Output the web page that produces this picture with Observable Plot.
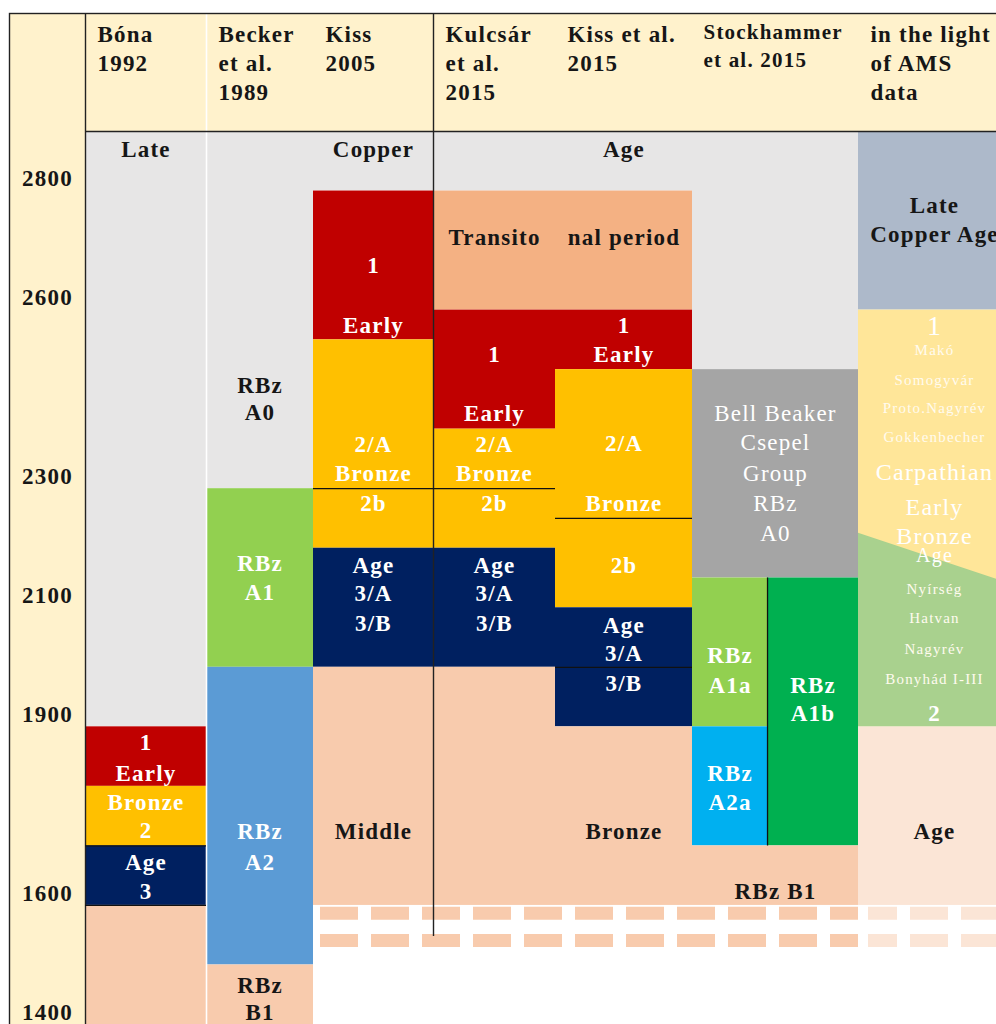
<!DOCTYPE html>
<html>
<head>
<meta charset="utf-8">
<script src="https://cdn.jsdelivr.net/npm/d3@7"></script>
<script src="https://cdn.jsdelivr.net/npm/@observablehq/plot@0.6"></script>
<style>
  html, body { margin: 0; padding: 0; background: #fff; }
  #chart { width: 996px; height: 1024px; overflow: hidden; }
  #chart svg { display: block; overflow: hidden; }
  #chart svg text { letter-spacing: 1.2px; }
</style>
</head>
<body>
<div id="chart"></div>
<script>
// ---------------- DATA ----------------
const columns = ["Bóna 1992", "Becker et al. 1989", "Kiss 2005", "Kulcsár et al. 2015",
                 "Kiss et al. 2015", "Stockhammer et al. 2015", "in the light of AMS data"];
const headerLines = [["Bóna", "1992"], ["Becker", "et al.", "1989"], ["Kiss", "2005"],
                     ["Kulcsár", "et al.", "2015"], ["Kiss et al.", "2015"],
                     ["Stockhammer", "et al. 2015"], ["in the light", "of AMS", "data"]];
const yearTicks = [2800, 2600, 2300, 2100, 1900, 1600, 1400];

// periods per column: [from (BC), to (BC), phase, lane]
const bonaPeriods = [[2900, 1900, "LCA"], [1900, 1800, "EBA1"], [1800, 1700, "EBA2"], [1700, 1600, "EBA3"], [1600, 1400, "MBA"]];
const beckerPeriods = [[2900, 2300, "LCA"], [2300, 2000, "A1"], [2000, 1500, "A2"], [1500, 1400, "B1"]];
const kiss2005Periods = [[2900, 2800, "LCA"], [2800, 2550, "EBA1"], [2550, 2200, "EBA2"], [2200, 2000, "EBA3"], [2000, 1600, "MBA"]];
const kulcsarPeriods = [[2900, 2800, "LCA"], [2800, 2600, "TRANS"], [2600, 2400, "EBA1"], [2400, 2200, "EBA2"], [2200, 2000, "EBA3"], [2000, 1600, "MBA"]];
const kissEtAlPeriods = [[2900, 2800, "LCA"], [2800, 2600, "TRANS"], [2600, 2500, "EBA1"], [2500, 2100, "EBA2"], [2100, 1900, "EBA3"], [1900, 1600, "MBA"]];
const stockhammerPeriods = [[2900, 2500, "LCA"], [2500, 2150, "A0"], [2150, 1900, "A1", "a"], [1900, 1700, "A2a", "a"], [2150, 1700, "A1b", "b"], [1700, 1600, "B1"]];
const amsPeriods = [[2900, 2600, "AMS_LCA"], [2600, 1900, "AMS_EBA1"], [1900, 1600, "AMS_MBA"]];
// AMS EBA1 / EBA2 boundary: [position across column (0 = left, 1 = right), year]
const amsEba2Boundary = [[0, 2225], [1, 2140]];
const amsEba2End = 1900;

// internal sub-phase divisions: [column, year]
const subdivisions = [["Bóna 1992", 1700], ["Bóna 1992", 1600], ["Kiss 2005", 2300],
                      ["Kulcsár et al. 2015", 2300], ["Kiss et al. 2015", 2250], ["Kiss et al. 2015", 2000]];
const stockhammerLaneSplit = [2150, 1700];
const kissDividerEnd = 1548;
const continuationRows = [1587, 1541];

// labels per column: [text, year, lane]
const bonaLabels = [["Late", 2870], ["1", 1874], ["Early", 1822], ["Bronze", 1773], ["2", 1726], ["Age", 1672], ["3", 1623]];
const beckerLabels = [["RBz", 2473], ["A0", 2428], ["RBz", 2174], ["A1", 2126], ["RBz", 1724], ["A2", 1672], ["RBz", 1465], ["B1", 1420]];
const kiss2005Labels = [["Copper", 2870], ["1", 2675], ["Early", 2574], ["2/A", 2374], ["Bronze", 2325], ["2b", 2275], ["Age", 2171], ["3/A", 2124], ["3/B", 2073], ["Middle", 1724]];
const kulcsarLabels = [["Transito", 2722], ["1", 2526], ["Early", 2426], ["2/A", 2374], ["Bronze", 2325], ["2b", 2275], ["Age", 2171], ["3/A", 2124], ["3/B", 2073]];
const kissEtAlLabels = [["Age", 2870], ["nal period", 2722], ["1", 2574], ["Early", 2526], ["2/A", 2376], ["Bronze", 2275], ["2b", 2171], ["Age", 2070], ["3/A", 2023], ["3/B", 1973], ["Bronze", 1724]];
const stockhammerLabels = [["RBz", 2020, "a"], ["A1a", 1969, "a"], ["RBz", 1969, "b"], ["A1b", 1922, "b"], ["RBz", 1822, "a"], ["A2a", 1772, "a"], ["RBz B1", 1623]];
const amsLabels = [["Late", 2776], ["Copper Age", 2727], ["2", 1922], ["Age", 1724]];
const stockhammerA0Labels = [["Bell Beaker", 2426], ["Csepel", 2378], ["Group", 2325], ["RBz", 2275], ["A0", 2225]];
const amsPhaseNumber = [["1", 2574]];
const amsEraName = [["Carpathian", 2327], ["Early", 2268], ["Bronze", 2220]];
const amsEraSuffix = [["Age", 2188]];
const amsCultures = [["Makó", 2532], ["Somogyvár", 2483], ["Proto.Nagyrév", 2436], ["Gokkenbecher", 2386],
                     ["Nyírség", 2131], ["Hatvan", 2082], ["Nagyrév", 2030], ["Bonyhád I-III", 1980]];

// ---------------- STYLE / LAYOUT ----------------
const FONT = "'Liberation Serif', 'Times New Roman', serif";
const colEdgePx = [9, 85, 206, 313, 433, 555, 692, 858, 1010];
const yDomain = [2900, 1400], yRange = [131, 1024], frameTop = 13;
const laneSpan = {"": [0, 1], a: [0, 0.452], b: [0.452, 1]};
const phaseColor = {
  LCA: "#E7E6E6", TRANS: "#F4B183", EBA1: "#C00000", EBA2: "#FFC000", EBA3: "#002060",
  MBA: "#F8CBAD", B1: "#F8CBAD", A0: "#A5A5A5", A1: "#92D050", A1b: "#00B050",
  A2: "#5B9BD5", A2a: "#00B0F0", AMS_LCA: "#ADB9CA", AMS_EBA1: "#FFE699",
  AMS_EBA2: "#A9D18E", AMS_MBA: "#FBE5D6"
};
const darkInk = new Set(["LCA", "TRANS", "MBA", "B1", "AMS_LCA", "AMS_MBA"]);
const INK = "#161616";
const HEADER_BG = "#FFF2CC";

// ---------------- BUILD TABLES ----------------
const periodSets = [bonaPeriods, beckerPeriods, kiss2005Periods, kulcsarPeriods, kissEtAlPeriods, stockhammerPeriods, amsPeriods];
const labelSets = [bonaLabels, beckerLabels, kiss2005Labels, kulcsarLabels, kissEtAlLabels, stockhammerLabels, amsLabels];
const colX = (c, lane = "", t = 0.5) => {
  const s = laneSpan[lane];
  return c + 1 + s[0] + (s[1] - s[0]) * t;
};
const periods = periodSets.flatMap((arr, c) =>
  arr.map(([from, to, phase, lane = ""]) => ({c, from, to, phase, lane})));
const phaseAt = (c, year, lane) => {
  const p = periods.find(d => d.c === c && d.from >= year && d.to < year && (d.lane === lane || d.lane === "" || lane === ""));
  return p ? p.phase : "LCA";
};
const labels = labelSets.flatMap((arr, c) =>
  arr.map(([text, year, lane = ""]) => ({c, text, year, lane, phase: phaseAt(c, year, lane)})));
const header = headerLines.map((lines, c) => ({c, text: lines.join("\n"), name: columns[c]}));
const colIndex = name => columns.indexOf(name);
const amsCol = colIndex("in the light of AMS data");
const stockCol = colIndex("Stockhammer et al. 2015");
// year value at the top edge of the header (for rules that cross the header band)
const headerTopYear = d3.scaleLinear(yDomain, yRange).invert(frameTop);

const plot = Plot.plot({
  width: 996,
  height: 1024,
  marginLeft: 9, marginTop: frameTop, marginRight: -6, marginBottom: -6,
  x: {type: "linear", domain: colEdgePx.map((_, i) => i), range: colEdgePx, axis: null},
  y: {type: "linear", domain: yDomain, range: yRange, axis: null},
  color: {type: "identity"},
  style: {fontFamily: FONT, fontSize: "23px", background: "transparent", overflow: "hidden"},
  marks: [
    // backgrounds
    Plot.rect([0], {x1: 0, x2: 1, fill: HEADER_BG}),
    Plot.rect([0], {x1: 1, x2: columns.length + 1, fill: HEADER_BG}),
    Plot.rect([0], {x1: 1, x2: columns.length + 1, y1: 2900, y2: 1400, fill: "white"}),
    // period boxes
    Plot.rect(periods, {
      x1: d => colX(d.c, d.lane, 0), x2: d => colX(d.c, d.lane, 1),
      y1: "from", y2: "to", fill: d => phaseColor[d.phase]
    }),
    // AMS EBA 2 (diagonal boundary)
    Plot.areaY(amsEba2Boundary, {
      x: d => colX(amsCol, "", d[0]), y1: amsEba2End, y2: d => d[1], fill: phaseColor.AMS_EBA2
    }),
    // continuation bands
    Plot.ruleY(continuationRows, {x1: colIndex("Kiss 2005") + 1, x2: amsCol + 1, stroke: "#F8CBAD",
      strokeWidth: 13, strokeDasharray: "38,13", strokeDashoffset: 44}),
    Plot.ruleY(continuationRows, {x1: amsCol + 1, x2: amsCol + 2, stroke: "#FBE5D6",
      strokeWidth: 13, strokeDasharray: "0,10,29,13,38,13,38,13,38,13"}),
    // separators
    Plot.ruleX([2], {stroke: "white", strokeWidth: 1.6}),
    Plot.ruleX([1], {stroke: "#222", strokeWidth: 1.4}),
    Plot.ruleX([colIndex("Kulcsár et al. 2015") + 1], {y1: headerTopYear, y2: kissDividerEnd, stroke: "#222", strokeWidth: 1.4}),
    Plot.ruleY([2900], {x1: 1, x2: columns.length + 1, stroke: "#222", strokeWidth: 1.4}),
    Plot.ruleY(subdivisions, {
      y: d => d[1], x1: d => colIndex(d[0]) + 1, x2: d => colIndex(d[0]) + 2,
      stroke: "#111", strokeWidth: 1.3
    }),
    Plot.ruleX([colX(stockCol, "b", 0)], {y1: stockhammerLaneSplit[0], y2: stockhammerLaneSplit[1], stroke: "#111", strokeWidth: 1.3}),
    Plot.frame({stroke: "#222", strokeWidth: 1.4}),
    // header text
    Plot.text(header.filter(d => d.c !== stockCol), {
      x: d => d.c + 1, text: "text", frameAnchor: "top", lineAnchor: "top", textAnchor: "start",
      dx: 12, dy: 8, lineHeight: 1.26, fontSize: 23, fontWeight: "bold", fill: INK
    }),
    Plot.text(header.filter(d => d.c === stockCol), {
      x: d => d.c + 1, text: "text", frameAnchor: "top", lineAnchor: "top", textAnchor: "start",
      dx: 11, dy: 5, lineHeight: 1.36, fontSize: 21, fontWeight: "bold", fill: INK
    }),
    // year ticks
    Plot.text(yearTicks, {x: 0.5, y: d => d, text: d => String(d), dy: -12, fontSize: 23, fontWeight: "bold", fill: INK}),
    // period labels
    Plot.text(labels, {
      x: d => colX(d.c, d.lane), y: "year", text: "text", fontSize: 23, fontWeight: "bold",
      fill: d => darkInk.has(d.phase) ? INK : "white"
    }),
    Plot.text(stockhammerA0Labels, {x: colX(stockCol), y: d => d[1], text: d => d[0], fontSize: 23, fill: "white"}),
    Plot.text(amsPhaseNumber, {x: colX(amsCol), y: d => d[1], text: d => d[0], fontSize: 28, fill: "white"}),
    Plot.text(amsEraName, {x: colX(amsCol), y: d => d[1], text: d => d[0], fontSize: 24, fill: "white"}),
    Plot.text(amsEraSuffix, {x: colX(amsCol), y: d => d[1], text: d => d[0], fontSize: 20, fill: "white"}),
    Plot.text(amsCultures, {x: colX(amsCol), y: d => d[1], text: d => d[0], fontSize: 15, fill: "#FFFBEF"})
  ]
});
document.getElementById("chart").appendChild(plot);
</script>
</body>
</html>
